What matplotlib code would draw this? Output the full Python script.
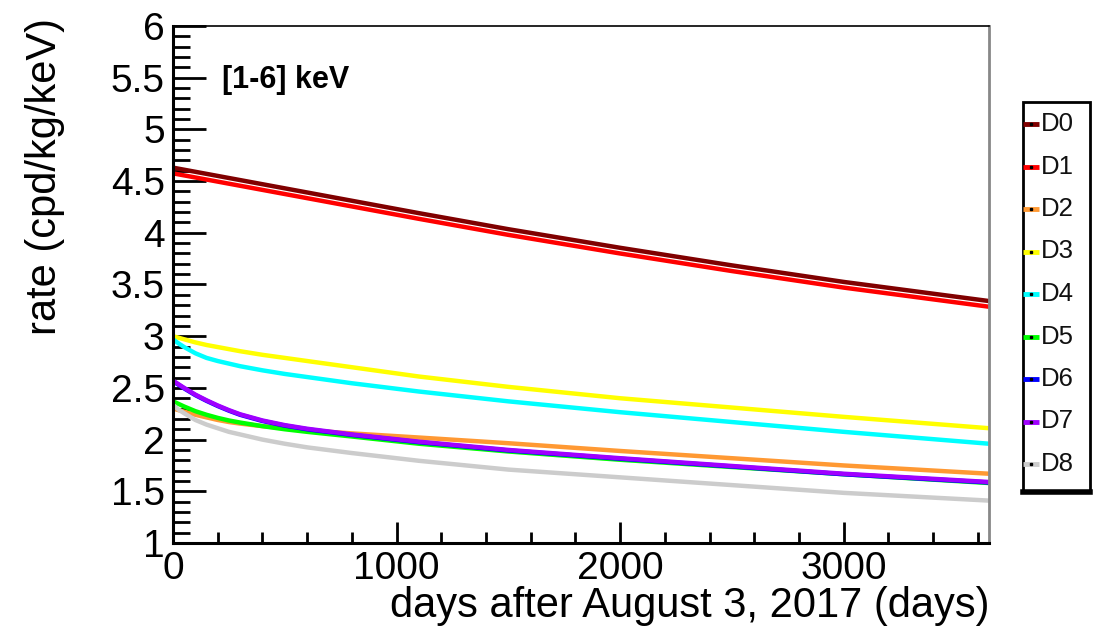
import matplotlib
matplotlib.use("Agg")
import matplotlib.pyplot as plt
from matplotlib.ticker import MultipleLocator
from matplotlib.patches import Rectangle

plt.rcParams['font.family'] = ['Liberation Sans', 'DejaVu Sans']

# ---- data ----
days = [0, 25, 50, 100, 150, 200, 250, 300, 400, 500, 600, 800, 1100, 1500, 2000, 2500, 3000, 3650]

labels = ["D0", "D1", "D2", "D3", "D4", "D5", "D6", "D7", "D8"]
colors = ["#800000", "#ff0000", "#ff9933", "#ffff00", "#00ffff",
          "#00ff00", "#0000ff", "#a000ff", "#cccccc"]

d0 = [4.63, 4.62, 4.61, 4.59, 4.57, 4.55, 4.53, 4.51, 4.47, 4.43, 4.39, 4.31, 4.19, 4.035, 3.855, 3.685, 3.525, 3.34]
d1 = [4.575, 4.565, 4.555, 4.535, 4.515, 4.495, 4.475, 4.455, 4.415, 4.375, 4.335, 4.255, 4.135, 3.98, 3.80, 3.63, 3.47, 3.285]
d2 = [2.30, 2.285, 2.27, 2.24, 2.215, 2.19, 2.17, 2.155, 2.13, 2.11, 2.09, 2.06, 2.02, 1.965, 1.89, 1.82, 1.75, 1.67]
d3 = [3.00, 2.985, 2.97, 2.94, 2.915, 2.895, 2.875, 2.855, 2.82, 2.79, 2.76, 2.70, 2.61, 2.51, 2.40, 2.31, 2.22, 2.11]
d4 = [2.97, 2.93, 2.895, 2.835, 2.79, 2.76, 2.735, 2.71, 2.67, 2.635, 2.605, 2.545, 2.465, 2.37, 2.265, 2.17, 2.075, 1.96]
d5 = [2.37, 2.345, 2.32, 2.275, 2.24, 2.21, 2.185, 2.165, 2.13, 2.10, 2.075, 2.03, 1.96, 1.885, 1.805, 1.735, 1.665, 1.58]
d6 = [2.565, 2.53, 2.495, 2.43, 2.375, 2.325, 2.28, 2.24, 2.18, 2.135, 2.10, 2.045, 1.975, 1.895, 1.815, 1.74, 1.665, 1.585]
d7 = [2.57, 2.535, 2.50, 2.435, 2.38, 2.33, 2.285, 2.245, 2.185, 2.14, 2.105, 2.05, 1.98, 1.90, 1.82, 1.745, 1.67, 1.59]
d8 = [2.335, 2.29, 2.255, 2.19, 2.145, 2.11, 2.075, 2.05, 2.00, 1.96, 1.925, 1.87, 1.795, 1.71, 1.635, 1.56, 1.485, 1.41]
series = [d0, d1, d2, d3, d4, d5, d6, d7, d8]

xticks = [0, 1000, 2000, 3000]
yticks = [1, 1.5, 2, 2.5, 3, 3.5, 4, 4.5, 5, 5.5, 6]
ytick_labels = ["1", "1.5", "2", "2.5", "3", "3.5", "4", "4.5", "5", "5.5", "6"]

# ---- figure ----
W, H = 1094, 631
fig = plt.figure(figsize=(W / 100, H / 100), dpi=100)
L, R, T, B = 173, 989, 26, 543
ax = fig.add_axes([L / W, 1 - B / H, (R - L) / W, (B - T) / H])

for y, c in zip(series, colors):
    ax.plot(days, y, color=c, lw=3.2, solid_capstyle='butt', solid_joinstyle='round')

ax.set_xlim(0, 3650)
ax.set_ylim(1, 6)
ax.set_xticks(xticks)
ax.set_xticklabels([str(t) for t in xticks])
ax.set_yticks(yticks)
ax.set_yticklabels(ytick_labels)
ax.xaxis.set_minor_locator(MultipleLocator(200))
ax.yaxis.set_minor_locator(MultipleLocator(0.1))

ax.tick_params(axis='both', which='both', direction='in', top=False, right=False,
               labelsize=28, width=2, colors='black')
ax.tick_params(axis='y', which='major', length=24, pad=6)
ax.tick_params(axis='y', which='minor', length=12, width=2)
ax.tick_params(axis='x', which='major', length=15, pad=6)
ax.tick_params(axis='x', which='minor', length=8, width=2)

for s in ['left', 'bottom']:
    ax.spines[s].set_linewidth(2.2)
ax.spines['top'].set_linewidth(1.2)
ax.spines['right'].set_linewidth(2.0)
ax.spines['right'].set_color('#888888')

ax.text(0.06, 0.895, "[1-6] keV", transform=ax.transAxes, fontsize=22,
        fontweight='bold', ha='left', va='center')

fig.text(45 / W, 1 - 18 / H, "rate (cpd/kg/keV)", rotation=90, fontsize=30,
         ha='center', va='top')
fig.text(R / W, 1 - 606 / H, "days after August 3, 2017 (days)", fontsize=30,
         ha='right', va='center')

# ---- legend box ----
LL, LR, LT, LB = 1023, 1090, 102, 492
lax = fig.add_axes([LL / W, 1 - LB / H, (LR - LL) / W, (LB - LT) / H])
lax.set_xlim(0, 1)
lax.set_ylim(0, 1)
lax.axis('off')
lax.add_patch(Rectangle((0, 0), 1, 1, fill=False, lw=2.0, ec='black',
                        transform=lax.transAxes, clip_on=False))
lax.plot([0, 1], [0, 0], color='black', lw=4, transform=lax.transAxes, clip_on=False)
entry_y0 = 124
step = 42.5
for i, (lab, c) in enumerate(zip(labels, colors)):
    ypx = entry_y0 + i * step
    yf = (LB - ypx) / (LB - LT)
    lax.plot([0.0, 0.24], [yf, yf], color=c, lw=3.5, solid_capstyle='butt', clip_on=False)
    lax.plot([0.12], [yf], marker='s', ms=1.8, color='black', clip_on=False)
    lax.text(0.26, yf, lab, fontsize=18.5, ha='left', va='center', color='#111111')

fig.savefig("out.png", dpi=100)
